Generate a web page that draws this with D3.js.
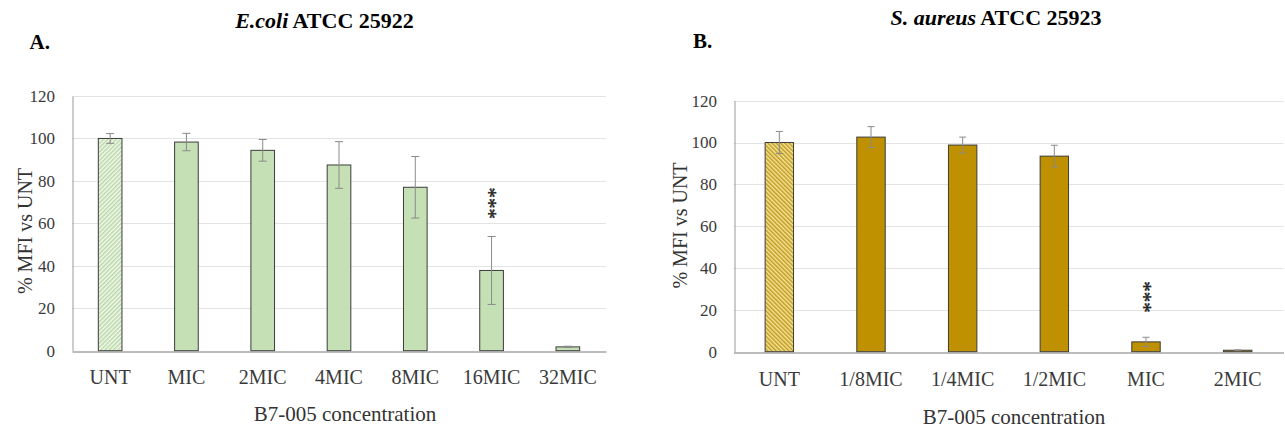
<!DOCTYPE html>
<html>
<head>
<meta charset="utf-8">
<script src="https://cdn.jsdelivr.net/npm/d3@7"></script>
<style>
  body { margin: 0; background: #fff; }
  svg { display: block; font-family: "Liberation Serif", "Times New Roman", serif; }
  .tick-label { fill: #3a3a3a; }
  .title { font-weight: bold; fill: #000; }
</style>
</head>
<body>
<svg id="chart"></svg>
<script>
//Chart Data
const ecoliCategories = ["UNT", "MIC", "2MIC", "4MIC", "8MIC", "16MIC", "32MIC"];
const ecoliValues = [100, 98.3, 94.4, 87.5, 77, 37.8, 1.8];
const ecoliErrors = [2.3, 4.1, 5.1, 11, 14.5, 16, 0.3];
const ecoliSignificant = ["16MIC"];

const aureusCategories = ["UNT", "1/8MIC", "1/4MIC", "1/2MIC", "MIC", "2MIC"];
const aureusValues = [100, 102.6, 98.8, 93.5, 4.7, 0.7];
const aureusErrors = [5.3, 5, 3.8, 5.2, 2.2, 0.2];
const aureusSignificant = ["MIC"];

const yTicks = [0, 20, 40, 60, 80, 100, 120];

const w = 1285;
const h = 432;

const chart = d3.select("#chart")
                .attr("width", w)
                .attr("height", h);

//Hatch Patterns for the UNT bars
const defs = chart.append("defs");

const hatchGreen = defs.append("pattern")
                       .attr("id", "hatch-green")
                       .attr("patternUnits", "userSpaceOnUse")
                       .attr("width", 3)
                       .attr("height", 3)
                       .attr("patternTransform", "rotate(45)");
hatchGreen.append("rect").attr("width", 3).attr("height", 3).attr("fill", "#f4f9f0");
hatchGreen.append("line").attr("x1", 0.75).attr("y1", 0).attr("x2", 0.75).attr("y2", 3)
          .attr("stroke", "#b9d8a4").attr("stroke-width", 1.5);

const hatchGold = defs.append("pattern")
                      .attr("id", "hatch-gold")
                      .attr("patternUnits", "userSpaceOnUse")
                      .attr("width", 3)
                      .attr("height", 3)
                      .attr("patternTransform", "rotate(-45)");
hatchGold.append("rect").attr("width", 3).attr("height", 3).attr("fill", "#f6e596");
hatchGold.append("line").attr("x1", 0.75).attr("y1", 0).attr("x2", 0.75).attr("y2", 3)
         .attr("stroke", "#bf9a22").attr("stroke-width", 1.5);

drawPanel({
  categories: ecoliCategories,
  values: ecoliValues,
  errors: ecoliErrors,
  significant: ecoliSignificant,
  xRange: [72, 606],
  yRange: [350.7, 96],
  fill: "#c5e0b4",
  hatch: "url(#hatch-green)",
  capWidth: 8,
  starGap: 33.2,
  tickLabelX: 55,
  yTitleX: 31.5,
  yTitleY: 231,
  xLabelY: 384,
  xTitle: { x: 345, y: 421 },
  title: { x: 324.5, y: 28, italic: "E.coli", rest: " ATCC 25922" },
  letter: { x: 29.5, y: 49, text: "A." }
});

drawPanel({
  categories: aureusCategories,
  values: aureusValues,
  errors: aureusErrors,
  significant: aureusSignificant,
  xRange: [733.5, 1283.5],
  yRange: [351.7, 100.7],
  fill: "#bf9000",
  hatch: "url(#hatch-gold)",
  capWidth: 7,
  starGap: 40.3,
  tickLabelX: 717,
  yTitleX: 686.5,
  yTitleY: 225.5,
  xLabelY: 386,
  xTitle: { x: 1014, y: 424 },
  title: { x: 996, y: 25, italic: "S. aureus", rest: " ATCC 25923" },
  letter: { x: 693, y: 48, text: "B." }
});

function drawPanel(cfg){
  const data = cfg.categories.map((c, i) => ({ cat: c, value: cfg.values[i], err: cfg.errors[i] }));

  //Scale Setup
  const xScale = d3.scaleBand()
                   .domain(cfg.categories)
                   .range(cfg.xRange)
                   .paddingInner(0.69)
                   .paddingOuter(0.345);

  const yScale = d3.scaleLinear()
                   .domain([0, 120])
                   .range(cfg.yRange);

  const g = chart.append("g");

  //Gridlines
  g.selectAll(".grid")
   .data(yTicks.filter((t) => t > 0))
   .enter()
   .append("line")
   .attr("x1", cfg.xRange[0])
   .attr("x2", cfg.xRange[1])
   .attr("y1", (t) => Math.round(yScale(t)) + 0.5)
   .attr("y2", (t) => Math.round(yScale(t)) + 0.5)
   .attr("stroke", "#e3e3e3")
   .attr("stroke-width", 1);

  //Axis Setup
  const yAxis = d3.axisLeft(yScale).tickValues(yTicks).tickSize(0).tickPadding(0);
  const yAxisG = g.append("g")
                  .attr("transform", "translate(" + (Math.round(cfg.xRange[0]) + 0.5) + ", 0)")
                  .call(yAxis);
  yAxisG.select(".domain").attr("stroke", "#9a9a9a");
  yAxisG.selectAll("text")
        .attr("class", "tick-label")
        .attr("x", cfg.tickLabelX - Math.round(cfg.xRange[0]) - 0.5)
        .attr("font-size", "17px")
        .attr("font-family", "Liberation Serif, serif");

  //Bars
  g.selectAll(".bar")
   .data(data)
   .enter()
   .append("rect")
   .attr("x", (d) => xScale(d.cat))
   .attr("y", (d) => yScale(d.value))
   .attr("width", xScale.bandwidth())
   .attr("height", (d) => yScale(0) - yScale(d.value))
   .attr("fill", (d, i) => i === 0 ? cfg.hatch : cfg.fill)
   .attr("stroke", "#3c3c3c")
   .attr("stroke-width", 1);

  const xAxis = d3.axisBottom(xScale).tickSize(0).tickPadding(0);
  const xAxisG = g.append("g")
                  .attr("transform", "translate(0, " + (Math.round(yScale(0)) + 0.5) + ")")
                  .call(xAxis);
  xAxisG.select(".domain").attr("stroke", "#7a7a7a").attr("stroke-width", 1.2);
  xAxisG.selectAll("text")
        .attr("class", "tick-label")
        .attr("y", cfg.xLabelY - Math.round(yScale(0)) - 0.5)
        .attr("dy", 0)
        .attr("font-size", "20px")
        .attr("font-family", "Liberation Serif, serif");

  //Error Bars
  const cx = (d) => xScale(d.cat) + xScale.bandwidth() / 2;
  const errG = g.selectAll(".err")
                .data(data)
                .enter()
                .append("g")
                .attr("stroke", "#8a8a8a")
                .attr("stroke-width", 1);
  errG.append("line")
      .attr("x1", cx).attr("x2", cx)
      .attr("y1", (d) => yScale(d.value + d.err))
      .attr("y2", (d) => yScale(Math.max(0, d.value - d.err)));
  errG.append("line")
      .attr("x1", (d) => cx(d) - cfg.capWidth / 2).attr("x2", (d) => cx(d) + cfg.capWidth / 2)
      .attr("y1", (d) => yScale(d.value + d.err))
      .attr("y2", (d) => yScale(d.value + d.err));
  errG.append("line")
      .attr("x1", (d) => cx(d) - cfg.capWidth / 2).attr("x2", (d) => cx(d) + cfg.capWidth / 2)
      .attr("y1", (d) => yScale(Math.max(0, d.value - d.err)))
      .attr("y2", (d) => yScale(Math.max(0, d.value - d.err)));

  //Significance Stars (one vertical label, like the Excel data label)
  const starSize = 21;
  g.selectAll(".stars")
   .data(data.filter((d) => cfg.significant.includes(d.cat)))
   .enter()
   .append("text")
   .attr("transform", (d) => "translate(" + (cx(d) - 0.45 * starSize) + "," + (yScale(d.value + d.err) - cfg.starGap) + ") rotate(90)")
   .attr("text-anchor", "middle")
   .attr("font-size", starSize + "px")
   .attr("letter-spacing", "0px")
   .attr("fill", "#222")
   .attr("stroke", "#222")
   .attr("stroke-width", 0.4)
   .text("***");

  //Labels Setup
  g.append("text")
   .attr("transform", "translate(" + cfg.yTitleX + "," + cfg.yTitleY + ") rotate(-90)")
   .attr("text-anchor", "middle")
   .attr("font-size", "20px")
   .attr("fill", "#333")
   .text("% MFI vs UNT");

  g.append("text")
   .attr("x", cfg.xTitle.x)
   .attr("y", cfg.xTitle.y)
   .attr("text-anchor", "middle")
   .attr("font-size", "21px")
   .attr("fill", "#333")
   .text("B7-005 concentration");

  const title = g.append("text")
                 .attr("x", cfg.title.x)
                 .attr("y", cfg.title.y)
                 .attr("text-anchor", "middle")
                 .attr("font-size", "22px")
                 .classed("title", true);
  title.append("tspan").attr("font-style", "italic").text(cfg.title.italic);
  title.append("tspan").text(cfg.title.rest);

  g.append("text")
   .attr("x", cfg.letter.x)
   .attr("y", cfg.letter.y)
   .attr("font-size", "21px")
   .classed("title", true)
   .text(cfg.letter.text);
};
</script>
</body>
</html>
